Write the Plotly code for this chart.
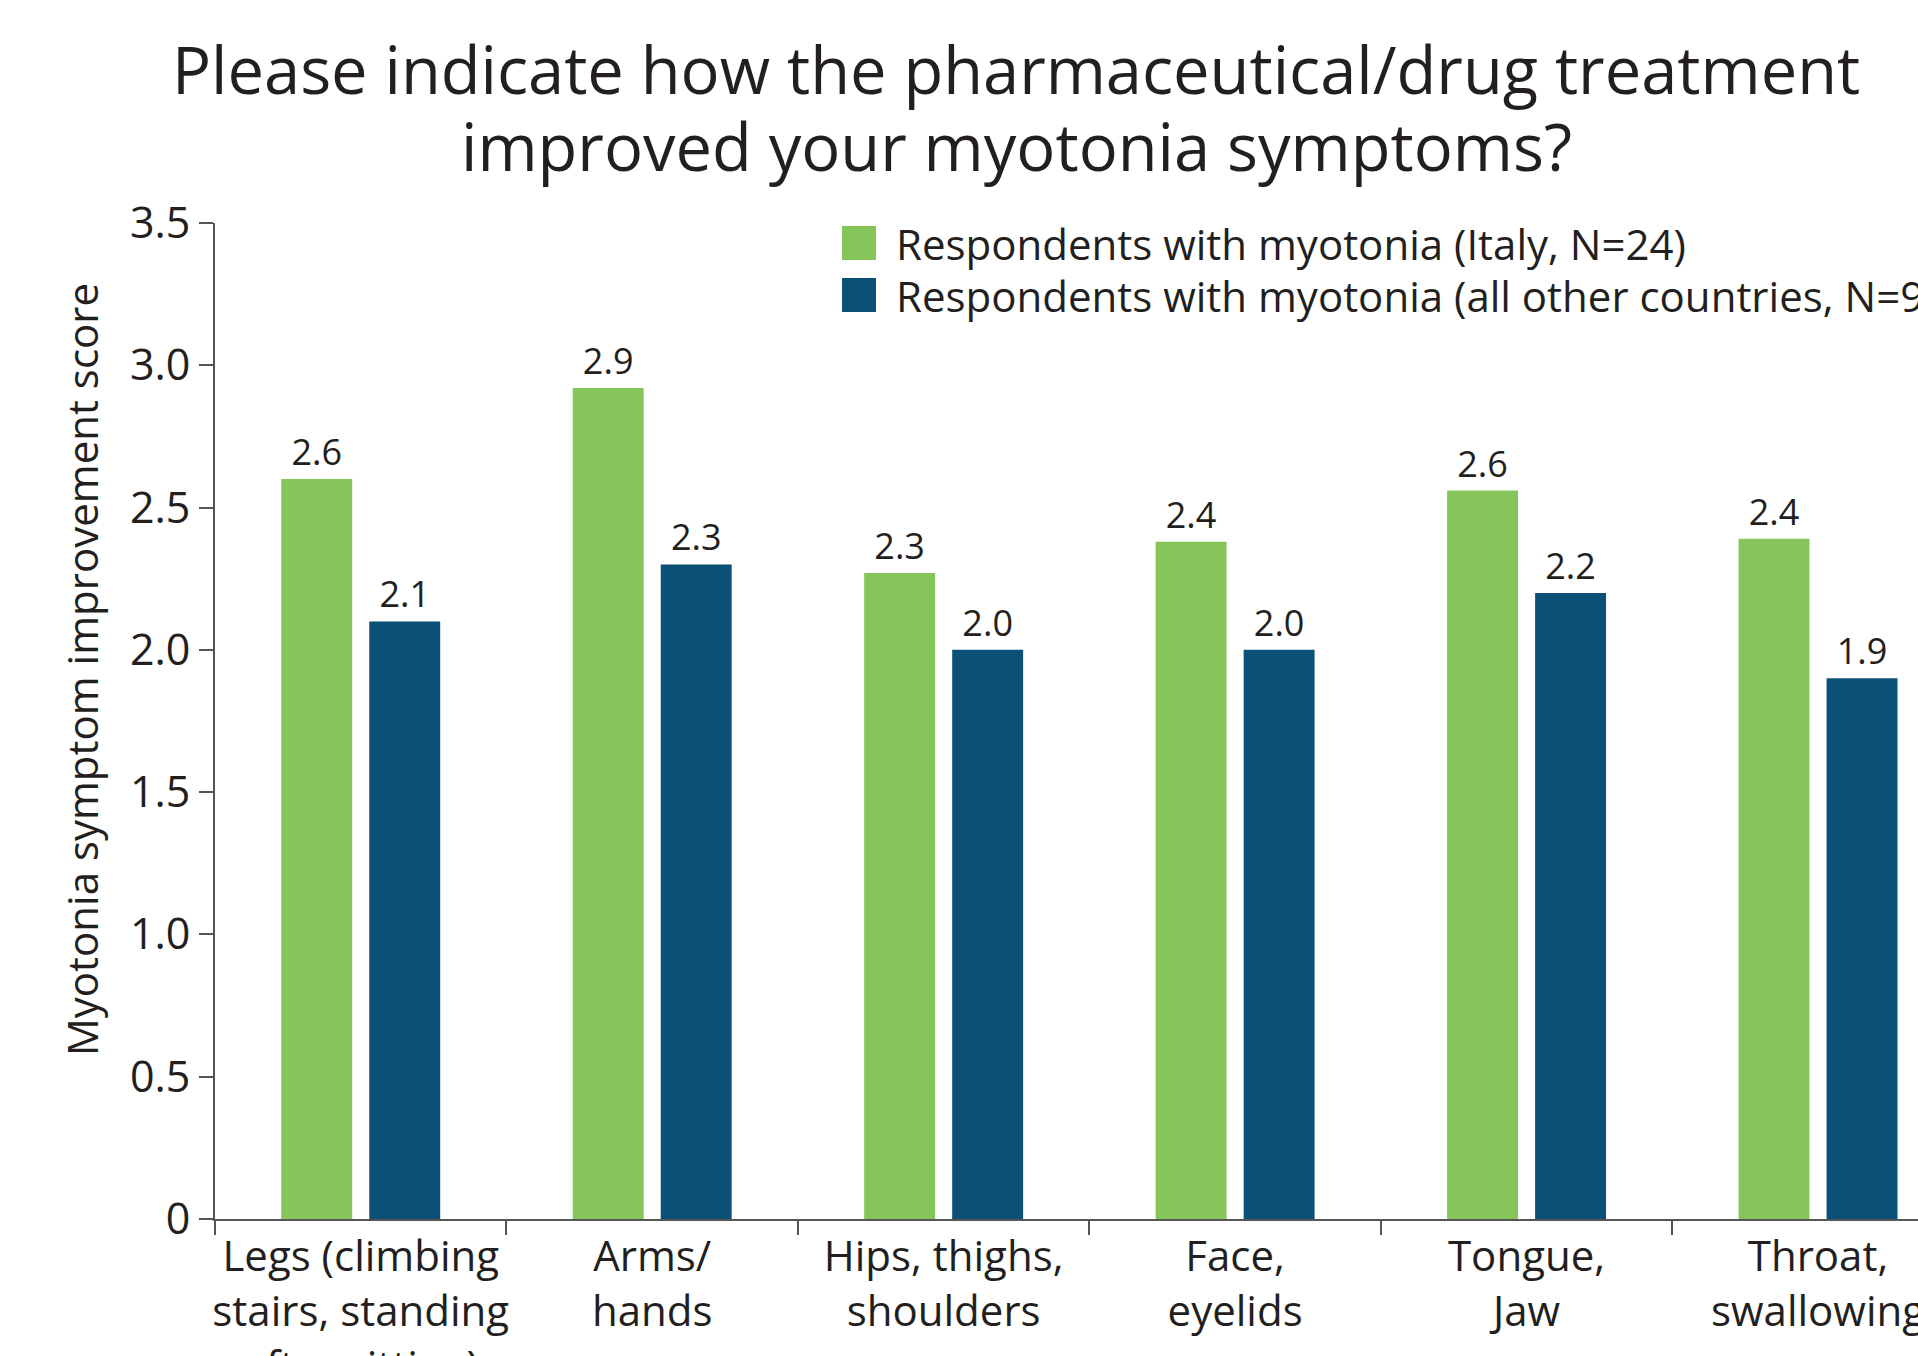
import plotly.graph_objects as go

categories = [
    "Legs (climbing<br>stairs, standing<br>after sitting)",
    "Arms/<br>hands",
    "Hips, thighs,<br>shoulders",
    "Face,<br>eyelids",
    "Tongue,<br>Jaw",
    "Throat,<br>swallowing",
]
italy_values = [2.60, 2.92, 2.27, 2.38, 2.56, 2.39]
other_values = [2.10, 2.30, 2.00, 2.00, 2.20, 1.90]
series_names = [
    "Respondents with myotonia (Italy, N=24)",
    "Respondents with myotonia (all other countries, N=96)",
]
ytick_vals = [0, 0.5, 1.0, 1.5, 2.0, 2.5, 3.0, 3.5]
ytick_text = ["0", "0.5", "1.0", "1.5", "2.0", "2.5", "3.0", "3.5"]
title_lines = ["Please indicate how the pharmaceutical/drug treatment",
               "improved your myotonia symptoms?"]
ytitle_text = "Myotonia symptom improvement score"

GREEN = "#86C55A"
BLUE = "#0B5177"
TXT = "#231F20"
FONT = "Open Sans"

# plot area geometry (pixels) used to place paper-referenced items
L, T, B, W = 215, 223, 1219, 1703
H = B - T


def px(x):
    return (x - L) / W


def py(y):
    return (B - y) / H


fig = go.Figure()
for name, vals, col in [(series_names[0], italy_values, GREEN),
                        (series_names[1], other_values, BLUE)]:
    fig.add_trace(go.Bar(
        x=categories, y=vals, name=name, marker_color=col,
        marker_line_width=0,
        texttemplate="%{y:.1f}", textposition="outside",
        textfont=dict(size=36, color=TXT, family=FONT),
        cliponaxis=False, showlegend=False,
    ))

# custom legend
for i, (name, col) in enumerate(zip(series_names, [GREEN, BLUE])):
    yc = 243 + i * 52
    fig.add_shape(type="rect", xref="paper", yref="paper",
                  x0=px(842), x1=px(876), y0=py(yc + 17), y1=py(yc - 17),
                  fillcolor=col, line_width=0)
    fig.add_annotation(xref="paper", yref="paper", x=px(894), y=py(yc),
                       xanchor="left", yanchor="middle", showarrow=False,
                       text=name, font=dict(size=42, color=TXT, family=FONT))

# title (two lines)
for i, line in enumerate(title_lines):
    fig.add_annotation(xref="paper", yref="paper", x=px(1016), y=py(69 + i * 77),
                       xanchor="center", yanchor="middle", showarrow=False,
                       text=line, font=dict(size=65, color=TXT, family=FONT))
# y-axis title
fig.add_annotation(xref="paper", yref="paper", x=px(81), y=py(670),
                   xanchor="center", yanchor="middle", showarrow=False, textangle=-90,
                   text=ytitle_text, font=dict(size=42, color=TXT, family=FONT))

fig.update_layout(
    width=1918, height=1356,
    margin=dict(l=L, r=0, t=T, b=1356 - B),
    paper_bgcolor="white", plot_bgcolor="white",
    barmode="group", bargap=0.396, bargroupgap=0.194,
    font=dict(family=FONT, color=TXT),
)
fig.update_xaxes(
    type="category", range=[-0.5, 5.343],
    showline=True, linecolor="#555555", linewidth=2,
    ticks="outside", tickson="boundaries", ticklen=14, tickcolor="#555555", tickwidth=1.5,
    tickangle=0,
    tickfont=dict(size=42, color=TXT, family=FONT),
    showgrid=False, automargin=False, zeroline=False,
)
fig.update_yaxes(
    range=[0, 3.5], tickvals=ytick_vals, ticktext=ytick_text,
    showline=True, linecolor="#555555", linewidth=2,
    ticks="outside", ticklen=14, tickcolor="#555555", tickwidth=2,
    tickfont=dict(size=43, color=TXT, family=FONT),
    showgrid=False, zeroline=False, automargin=False,
)
fig.write_html("out.html")
